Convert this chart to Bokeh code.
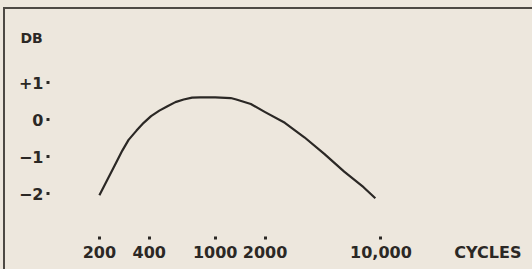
from bokeh.plotting import figure
from bokeh.models import Range1d, FixedTicker, Title
from bokeh.embed import file_html
from bokeh.resources import INLINE

# ---- data ----
freq_hz = [200, 225, 250, 275, 300, 335, 370, 410, 460, 515, 575, 645, 725, 810,
           1000, 1240, 1340, 1640, 2000, 2630, 3450, 4550, 6000, 7850, 9250]
response_db = [-2.05, -1.60, -1.20, -0.84, -0.55, -0.30, -0.09, 0.09, 0.24, 0.36, 0.47,
               0.54, 0.59, 0.60, 0.60, 0.58, 0.54, 0.42, 0.20, -0.09, -0.48, -0.93,
               -1.41, -1.83, -2.13]
x_ticks = [200, 400, 1000, 2000, 10000]
x_tick_labels = ["200", "400", "1000", "2000", "10,000"]
y_ticks = [1, 0, -1, -2]
y_tick_labels = ["+1", "0", "\u22121", "\u22122"]
y_title = "DB"
x_title = "CYCLES"
X_TITLE_AT = 44200   # where the unit word sits along the frequency axis

BG = "#ede7dd"
INK = "#2b2825"
FONT = "DejaVu Sans"

p = figure(width=532, height=269, x_axis_type="log",
           x_range=Range1d(100, 74500), y_range=Range1d(-3.162, 1.973),
           output_backend="svg", toolbar_location=None,
           min_border_left=49, min_border_right=7, min_border_top=46,
           min_border_bottom=33)
p.background_fill_color = BG
p.border_fill_color = BG
p.outline_line_color = None
p.grid.visible = False

p.line(freq_hz, response_db, line_color=INK, line_width=2.2, line_join="round")

# x axis: labels on "major" ticks (incl. the unit word), dots on the real ticks
label_ticks = x_ticks + [X_TITLE_AT]
label_texts = x_tick_labels + [x_title]
xa = p.xaxis[0]
xa.ticker = FixedTicker(ticks=label_ticks, minor_ticks=x_ticks)
xa.major_label_overrides = {t: s for t, s in zip(label_ticks, label_texts)}
xa.major_tick_in = 0
xa.major_tick_out = 3
xa.major_tick_line_color = None
xa.minor_tick_in = 0
xa.minor_tick_out = 3
xa.minor_tick_line_width = 3
xa.minor_tick_line_color = INK
xa.major_label_standoff = 3

ya = p.yaxis[0]
ya.ticker = FixedTicker(ticks=y_ticks, minor_ticks=[])
ya.major_label_overrides = {t: s for t, s in zip(y_ticks, y_tick_labels)}
ya.major_tick_in = 0
ya.major_tick_out = 3
ya.major_tick_line_width = 3
ya.major_tick_line_color = INK
ya.minor_tick_line_color = None
ya.major_label_standoff = 3

for ax in (xa, ya):
    ax.axis_line_color = None
    ax.major_label_text_font = FONT
    ax.major_label_text_font_style = "bold"
    ax.major_label_text_font_size = "16px"
    ax.major_label_text_color = INK

p.title = Title(text=y_title, align="left", offset=-29, standoff=1,
                text_font=FONT, text_font_style="bold", text_font_size="14px",
                text_color=INK)

html = file_html(p, INLINE)
css = ("<style>html,body{background:%s;}"
       "body::before{content:'';position:fixed;left:3px;top:7px;right:0;bottom:0;"
       "border-top:2px solid #4d4944;border-left:2px solid #4d4944;"
       "pointer-events:none;z-index:10;}</style>" % BG)
html = html.replace("<head>", "<head>\n" + css, 1)
open("out.html", "w").write(html)
